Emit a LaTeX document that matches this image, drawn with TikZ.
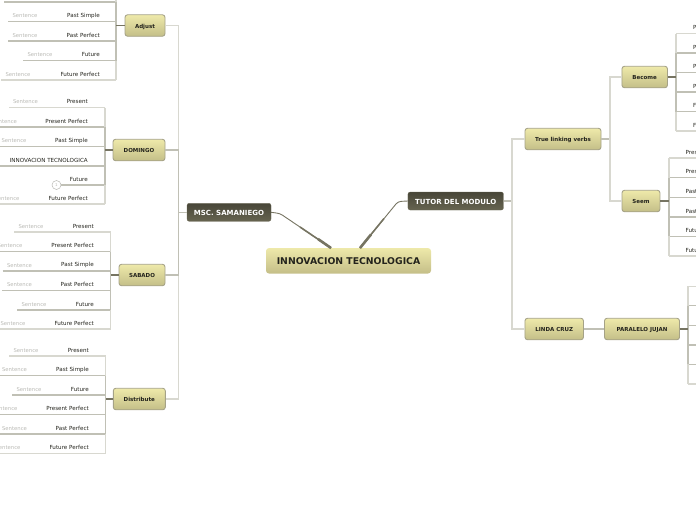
\documentclass[tikz,border=0pt]{standalone}
\usepackage{fontspec}
\setmainfont{DejaVu Sans}
\usetikzlibrary{positioning}
\definecolor{paper}{RGB}{255,255,255}
\definecolor{creamtop}{RGB}{238,233,170}
\definecolor{creammid}{RGB}{231,226,163}
\definecolor{creambot}{RGB}{196,190,136}
\definecolor{creamedge}{RGB}{165,162,135}
\definecolor{slatetop}{RGB}{72,70,56}
\definecolor{slatebot}{RGB}{102,100,80}
\definecolor{linelite}{RGB}{216,216,208}
\definecolor{linemid}{RGB}{192,192,181}
\definecolor{linedark}{RGB}{118,116,98}
\definecolor{inkgrey}{RGB}{185,185,180}
\definecolor{ink}{RGB}{35,35,28}
\tikzset{
  topic/.style={rounded corners=2.6pt,draw=creamedge,line width=0.9pt,top color=creamtop,middle color=creammid,bottom color=creambot,text=ink,font=\fontsize{5.5}{6}\selectfont\bfseries,inner sep=0pt,minimum height=21.5pt,text height=5.6pt,text depth=0pt},
  main/.style={rounded corners=2.2pt,draw=slatebot,line width=0.3pt,top color=slatetop,bottom color=slatebot,text=white,font=\fontsize{7}{8}\selectfont\bfseries,inner sep=0pt,minimum height=18pt,text height=6.4pt,text depth=0pt},
  rootbox/.style={rounded corners=3pt,top color=creamtop,middle color=creammid,bottom color=creambot,text=ink,font=\fontsize{9.3}{10}\selectfont\bfseries,inner sep=0pt,minimum width=165pt,minimum height=25.5pt,text height=7.6pt,text depth=0pt},
  sent/.style={font=\fontsize{5.3}{6}\selectfont,text=inkgrey,inner sep=0pt},
  verb/.style={font=\fontsize{5.6}{6}\selectfont,text=ink,inner sep=0pt},
  rlite/.style={draw=linelite,line width=1.3pt},
  rmid/.style={draw=linemid,line width=1.2pt},
  rdark/.style={draw=linedark,line width=1.2pt},
  taper/.style={draw=linedark,line width=0.9pt,line join=round},
  every picture/.style={x=1pt,y=-1pt}
}
% #1 line style, #2 name, #3 spine x, #4 text right x, #5 y, #6 line end x, #7 sentence x, #8 label
\newcommand{\leftrow}[8][rmid]{
  \coordinate (#2p) at (#3,#5); \coordinate (#2e) at (#6,#5);
  \node[verb,anchor=east] (#2) at (#4,#5-5.8) {#8};
  \node[sent] (#2s) at (#7,#5-5.8) {Sentence};
  \draw[#1] (#2e) -- (#2p);
}
% #1 line style, #2 name, #3 spine x, #4 y, #5 text left x, #6 label
\newcommand{\rightrow}[6][rmid]{
  \coordinate (#2p) at (#3,#4); \coordinate (#2e) at (697,#4);
  \node[verb,anchor=west] (#2) at (#5,#4-5.8) {#6};
  \draw[#1] (#2p) -- (#2e);
}
\begin{document}
\begin{tikzpicture}
  \useasboundingbox (0,0) rectangle (696,520);
  \clip (0,0) rectangle (696,520);
  % main nodes
  \node[rootbox] (root) at (348.5,260.8) {INNOVACION TECNOLOGICA};
  \node[main,minimum width=84pt] (msc) at (229,212.3) {MSC. SAMANIEGO};
  \node[main,minimum width=95.5pt] (tutor) at (455.7,201) {TUTOR DEL MODULO};
  \coordinate (rootl) at (331,248); \coordinate (rootr) at (360,248);
  \coordinate (bendl) at (280,213.5); \coordinate (bendr) at (398,201.5);
  \coordinate (halfl) at (300,227); \coordinate (halfr) at (384,218.5);
  \coordinate (lowl) at (318,239); \coordinate (lowr) at (371,234.5);
  \draw[taper,rounded corners=3pt] (msc.east) -- (bendl) -- (rootl); \draw[taper,rounded corners=3pt] (tutor.west) -- (bendr) -- (rootr);
  \draw[taper,line width=1.6pt] (halfl) -- (rootl); \draw[taper,line width=1.6pt] (halfr) -- (rootr);
  \draw[taper,line width=2.6pt] (lowl) -- (rootl); \draw[taper,line width=2.6pt] (lowr) -- (rootr);
  % left topics
  \node[topic,minimum width=40pt] (adjust) at (145,25.5) {Adjust};
  \node[topic,minimum width=52pt] (domingo) at (139,150) {DOMINGO};
  \node[topic,minimum width=46pt] (sabado) at (142,275) {SABADO};
  \node[topic,minimum width=52pt] (distribute) at (139.3,399) {Distribute};
  \coordinate (trunkl) at (178.5,212.3);
  \draw[rlite] (adjust.east) -| (trunkl); \draw[rlite] (distribute.east) -| (trunkl);
  \draw[rmid] (domingo.east) -| (trunkl); \draw[rmid] (sabado.east) -| (trunkl);
  \draw[rmid] (msc.west) -- (trunkl);
  % adjust rows
  \coordinate (a1p) at (116,-1); \coordinate (a1q) at (116,2); \coordinate (a1e) at (4,2);
  \leftrow{a2}{116}{100}{21.7}{8}{25}{Past Simple}
  \leftrow{a3}{116}{100}{41}{8}{25}{Past Perfect}
  \leftrow{a4}{116}{100}{60.5}{23}{40}{Future}
  \leftrow[rlite]{a5}{116}{100}{80}{1}{18}{Future Perfect}
  \draw[rmid] (a1e) -- (a1q);
  \draw[rlite] (a1p) -- (a5p); \draw[rmid] (a1q) -- (a4p);
  \draw[rdark] (adjust) -- (adjust -| a1p);
  % domingo rows
  \leftrow[rlite]{d1}{105}{88}{107.5}{9}{25.5}{Present}
  \leftrow{d2}{105}{88}{127}{0}{4.5}{Present Perfect}
  \leftrow{d3}{105}{88}{146.3}{0}{14}{Past Simple}
  \node[verb,anchor=east] (d4) at (88,160.2) {INNOVACION TECNOLOGICA};
  \coordinate (d4p) at (105,166); \coordinate (d4e) at (0,166);
  \draw[rmid] (d4e) -- (d4p);
  \node[verb,anchor=east] (d5) at (88,179.2) {Future};
  \node[circle,draw=inkgrey,line width=0.5pt,fill=paper,minimum size=9pt,inner sep=0pt,font=\fontsize{4}{5}\selectfont,text=inkgrey] (cnt) at (56.5,185) {1};
  \coordinate (d5p) at (105,185);
  \draw[rmid] (cnt) -- (d5p);
  \leftrow[rlite]{d6}{105}{88}{204}{0}{7}{Future Perfect}
  \draw[rlite] (d1p) -- (d6p); \draw[rmid] (d2p) -- (d5p);
  \draw[rdark] (domingo) -- (domingo -| d1p);
  % sabado rows
  \leftrow[rlite]{s1}{110.5}{94}{232}{14}{31}{Present}
  \leftrow{s2}{110.5}{94}{251.5}{0}{10}{Present Perfect}
  \leftrow{s3}{110.5}{94}{271}{2.5}{19.5}{Past Simple}
  \leftrow{s4}{110.5}{94}{290.5}{2}{19.5}{Past Perfect}
  \leftrow{s5}{110.5}{94}{310}{17}{34}{Future}
  \leftrow[rlite]{s6}{110.5}{94}{329}{0}{13}{Future Perfect}
  \draw[rlite] (s1p) -- (s6p); \draw[rmid] (s2p) -- (s5p);
  \draw[rdark] (sabado) -- (sabado -| s1p);
  % distribute rows
  \leftrow[rlite]{t1}{105.5}{89}{356}{9}{26}{Present}
  \leftrow{t2}{105.5}{89}{375.5}{0}{14.5}{Past Simple}
  \leftrow{t3}{105.5}{89}{395}{12}{29}{Future}
  \leftrow{t4}{105.5}{89}{414.5}{0}{5}{Present Perfect}
  \leftrow{t5}{105.5}{89}{434}{0}{14.5}{Past Perfect}
  \leftrow[rlite]{t6}{105.5}{89}{453.5}{0}{8}{Future Perfect}
  \draw[rlite] (t1p) -- (t6p); \draw[rmid] (t2p) -- (t5p);
  \draw[rdark] (distribute) -- (distribute -| t1p);
  % right topics
  \node[topic,minimum width=76pt] (linking) at (563,139) {True linking verbs};
  \node[topic,minimum width=58.5pt] (linda) at (554.2,329) {LINDA CRUZ};
  \node[topic,minimum width=75pt] (paralelo) at (642,329) {PARALELO JUJAN};
  \node[topic,minimum width=45.5pt] (become) at (644.7,77) {Become};
  \node[topic,minimum width=38pt] (seem) at (641,201) {Seem};
  \coordinate (trunkr) at (512,201); \coordinate (trunks) at (610,139);
  \draw[rmid] (tutor.east) -- (trunkr);
  \draw[rlite] (linking.west) -| (trunkr); \draw[rlite] (linda.west) -| (trunkr);
  \draw[rmid] (linda.east) -- (paralelo.west);
  \draw[rmid] (linking.east) -- (trunks);
  \draw[rlite] (become.west) -| (trunks); \draw[rlite] (seem.west) -| (trunks);
  % become rows
  \rightrow[rlite]{b1}{676}{33.5}{693}{Present}
  \rightrow{b2}{676}{53}{693}{Present Perfect}
  \rightrow{b3}{676}{72.7}{693}{Past Simple}
  \rightrow{b4}{676}{92}{693}{Past Perfect}
  \rightrow{b5}{676}{111.7}{693}{Future}
  \rightrow[rlite]{b6}{676}{131}{693}{Future Perfect}
  \draw[rlite] (b1p) -- (b6p); \draw[rmid] (b2p) -- (b5p);
  \draw[rdark] (become) -- (become -| b1p);
  % seem rows
  \rightrow[rlite]{m1}{669}{158}{685.5}{Present}
  \rightrow{m2}{669}{177.7}{685.5}{Present Perfect}
  \rightrow{m3}{669}{197.3}{685.5}{Past Simple}
  \rightrow{m4}{669}{217}{685.5}{Past Perfect}
  \rightrow{m5}{669}{236.3}{685.5}{Future}
  \rightrow[rlite]{m6}{669}{256}{685.5}{Future Perfect}
  \draw[rlite] (m1p) -- (m6p); \draw[rmid] (m2p) -- (m5p);
  \draw[rdark] (seem) -- (seem -| m1p);
  % paralelo rows
  \coordinate (p1p) at (688,286.3); \coordinate (p6p) at (688,384);
  \coordinate (p2p) at (688,305.7); \coordinate (p5p) at (688,364.3);
  \coordinate (p3p) at (688,325.3); \coordinate (p4p) at (688,345);
  \coordinate (pe) at (697,0);
  \draw[rlite] (p1p) -- (p1p -| pe); \draw[rmid] (p2p) -- (p2p -| pe); \draw[rmid] (p3p) -- (p3p -| pe);
  \draw[rmid] (p4p) -- (p4p -| pe); \draw[rmid] (p5p) -- (p5p -| pe); \draw[rlite] (p6p) -- (p6p -| pe);
  \draw[rlite] (p1p) -- (p6p); \draw[rmid] (p2p) -- (p5p);
  \draw[rdark] (paralelo) -- (paralelo -| p1p);
\end{tikzpicture}
\end{document}
